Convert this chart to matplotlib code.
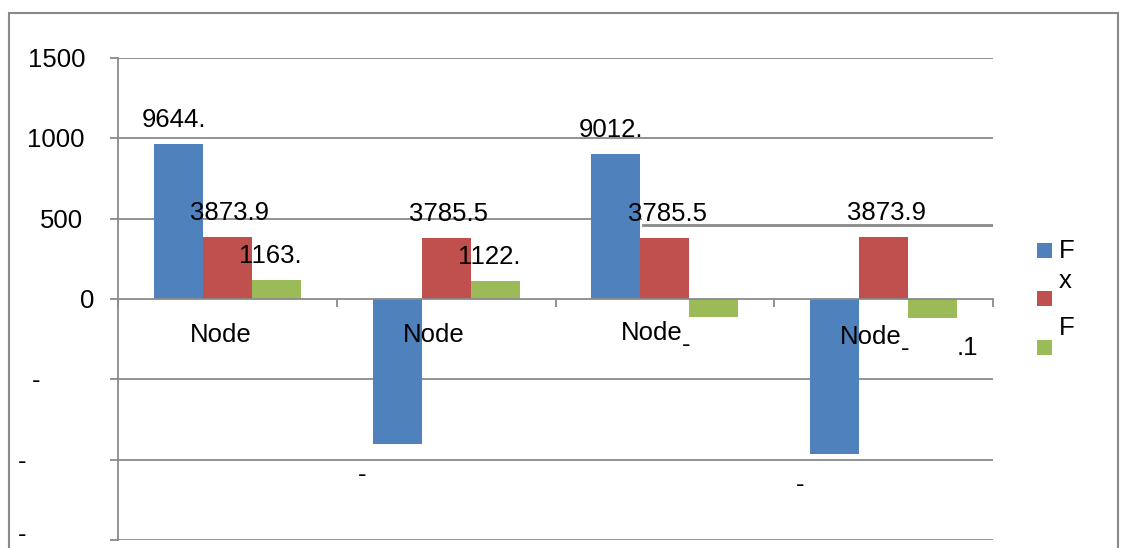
import numpy as np
import matplotlib
matplotlib.use("Agg")
import matplotlib.pyplot as plt
from matplotlib.patches import Rectangle
from matplotlib import transforms as mtransforms

# ---- data -------------------------------------------------------------
categories = ["Node", "Node", "Node", "Node"]
category_suffix = ["", "", "-", "-"]
series_names = ["F", "x", "F"]
fx_values = [964.4, -901.2, 901.2, -964.4]
x_values = [387.39, 378.55, 378.55, 387.39]
fy_values = [116.3, 112.2, -112.2, -116.3]
fx_labels = ["9644.", "-", "9012.", "-"]
x_labels = ["3873.9", "3785.5", "3785.5", "3873.9"]
fy_labels = ["1163.", "1122.", "", ".1"]
y_ticks = [-1500, -1000, -500, 0, 500, 1000, 1500]
y_tick_labels = ["-", "-", "-", "0", "500", "1000", "1500"]

# ---- style ------------------------------------------------------------
W, H, DPI = 1124, 548, 100
PT = 72.0 / DPI                      # points per pixel
colors = ["#4F81BD", "#C0504D", "#9BBB59"]
grid_color = "#8a8a8a"
FS = 18.5
plt.rcParams["font.family"] = ["Liberation Sans", "DejaVu Sans"]
plt.rcParams["font.size"] = FS

fig = plt.figure(figsize=(W / DPI, H / DPI), dpi=DPI)
fig.patch.set_facecolor("white")


def fx(px):
    return px / W


def fy(py):
    return (H - py) / H


ax = fig.add_axes([fx(118), fy(540), fx(993) - fx(118), fy(58) - fy(540)])
ax.set_xlim(-0.5, 3.5)
ax.set_ylim(-1500, 1500)

# gridlines (the 500 line is drawn in two pieces)
for v in y_ticks:
    if v == 500:
        ax.axhline(v, xmin=0, xmax=0.598, color=grid_color, lw=1.3, zorder=0.5)
        ax.axhline(458, xmin=0.600, xmax=1.0, color=grid_color, lw=2.0, zorder=0.5)
    elif v != 0:
        ax.axhline(v, color=grid_color, lw=1.3, zorder=0.5)

# bars
bar_w = 0.224
series = [fx_values, x_values, fy_values]
labels = [fx_labels, x_labels, fy_labels]
idx = np.arange(len(categories))
for s, (vals, col) in enumerate(zip(series, colors)):
    xs = idx + (s - 1) * bar_w
    ax.bar(xs, vals, width=bar_w, color=col, edgecolor="none", zorder=2)
    for xi, v, lab in zip(xs, vals, labels[s]):
        if not lab:
            continue
        if lab == ".1":
            off = (24, -37)
        elif v >= 0:
            off = (-37, 17)
        else:
            off = (-39, -38)
        ax.annotate(lab, xy=(xi, v), xytext=(off[0] * PT, off[1] * PT),
                    textcoords="offset points", ha="left", va="baseline",
                    fontsize=FS, color="black", zorder=5)

# axes styling
for side in ("top", "right"):
    ax.spines[side].set_visible(False)
ax.spines["left"].set_color(grid_color)
ax.spines["left"].set_linewidth(1.3)
ax.spines["bottom"].set_position(("data", 0))
ax.spines["bottom"].set_color(grid_color)
ax.spines["bottom"].set_linewidth(1.3)
ax.spines["bottom"].set_zorder(3)
ax.set_xticks([-0.5, 0.5, 1.5, 2.5, 3.5])
ax.set_xticklabels([])
ax.tick_params(axis="x", direction="out", length=8 * PT, width=1.3,
               color=grid_color)
ax.set_yticks(y_ticks)
ax.set_yticklabels([])
ax.tick_params(axis="y", direction="out", length=8 * PT, width=1.3,
               color=grid_color)

# y tick labels (the lowest one sits on the bottom edge of the figure)
ylab_left = {1500: 28, 1000: 27, 500: 40, 0: 80, -500: 32, -1000: 18, -1500: 18}
blend = mtransforms.blended_transform_factory(fig.transFigure, ax.transData)
for v, lab in zip(y_ticks, y_tick_labels):
    if v == -1500:
        drop, va = 7.5, "bottom"
    else:
        drop, va = 9, "baseline"
    ax.annotate(lab, xy=(fx(ylab_left[v]), v), xycoords=blend,
                xytext=(0, -drop * PT), textcoords="offset points",
                ha="left", va=va, fontsize=FS, annotation_clip=False)

# category labels
cat_dx = [-37, -43, -44, -44]
cat_base = [43.5, 43.5, 40.5, 44.5]
for i, (name, suf) in enumerate(zip(categories, category_suffix)):
    ax.annotate(name, xy=(i, 0), xytext=(cat_dx[i] * PT, -cat_base[i] * PT),
                textcoords="offset points", ha="left", va="baseline",
                fontsize=FS, zorder=5)
    if suf:
        ax.annotate(suf, xy=(i, 0),
                    xytext=((cat_dx[i] + 61) * PT, -(cat_base[i] + 12) * PT),
                    textcoords="offset points", ha="left", va="baseline",
                    fontsize=FS, zorder=5)

# legend
leg_sq = [250, 298.5, 347.5]
leg_base = [258, 288, 335]
for name, col, cy, by in zip(series_names, colors, leg_sq, leg_base):
    fig.add_artist(Rectangle((fx(1037), fy(cy + 7.5)), fx(15), 15 / H,
                             transform=fig.transFigure, facecolor=col,
                             edgecolor="none"))
    fig.text(fx(1059), fy(by), name, ha="left", va="baseline", fontsize=FS)

# chart frame
fig.add_artist(Rectangle((fx(8.5), fy(600)), fx(1118) - fx(8.5), fy(12.7) - fy(600),
                         transform=fig.transFigure, facecolor="none",
                         edgecolor=grid_color, lw=1.5, clip_on=False))

fig.savefig("out.png", dpi=DPI, facecolor="white")
